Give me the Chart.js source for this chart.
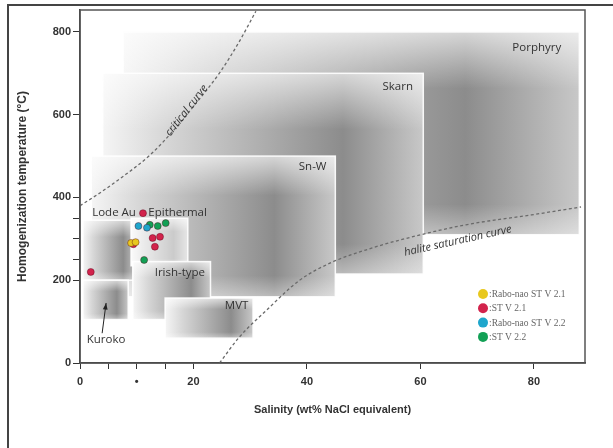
<!DOCTYPE html>
<html>
<head>
<meta charset="utf-8">
<script src="https://cdn.jsdelivr.net/npm/chart.js@4.4.1/dist/chart.umd.min.js"></script>
<style>
  html, body { margin: 0; padding: 0; background: #fff; }
  #wrap { width: 613px; height: 448px; }
</style>
</head>
<body>
<div id="wrap"><canvas id="chart" width="613" height="448"></canvas></div>
<script>
// ---- data ----
const xTicks = [0, 20, 40, 60, 80];
const yTicks = [0, 200, 400, 600, 800];

// ore deposit fields (salinity wt% NaCl eq., temperature °C)
const fieldNames = ["Porphyry", "Skarn", "Sn-W", "Lode Au", "Epithermal", "Irish-type", "Kuroko", "MVT"];
const fieldSalMin = [7.6, 4, 2, 0.5, 9, 9.3, 0.5, 15];
const fieldSalMax = [88, 60.5, 45, 10, 19, 23, 8.5, 30.5];
const fieldTMin = [310, 215, 160, 200, 235, 105, 105, 60];
const fieldTMax = [800, 700, 500, 345, 350, 245, 200, 157];
const fieldLabelSal = [80.5, 56, 41, 6, 17.2, 17.6, 4.6, 27.6];
const fieldLabelT = [761, 667, 474, 362, 362, 217, 56, 138];

// curves
const criticalSal = [0, 3.5, 7, 12.3, 17, 20, 24.7, 28, 31];
const criticalT = [380, 411, 445, 502, 570, 620, 703, 775, 850];
const haliteSal = [24.6, 28.1, 32.9, 38.7, 44.5, 51.5, 56.3, 68, 79.6, 88.3];
const haliteT = [0, 63, 128, 200, 244, 278, 297, 334, 358, 377];

// fluid inclusion samples
const seriesNames = ["Rabo-nao ST V 2.1", "ST V 2.1", "Rabo-nao ST V 2.2", "ST V 2.2"];
const seriesColors = ["#e8c81e", "#d2234c", "#1ea6cc", "#12a055"];
const rn21Sal = [9.0, 9.8];
const rn21T = [290, 292];
const st21Sal = [1.9, 11.1, 12.8, 14.1, 13.2, 9.4];
const st21T = [220, 362, 302, 305, 281, 287];
const rn22Sal = [10.3, 11.8];
const rn22T = [331, 327];
const st22Sal = [12.3, 13.7, 15.1, 11.3];
const st22T = [334, 331, 338, 249];

const toPoints = (xs, ys) => xs.map((x, i) => ({ x: x, y: ys[i] }));

const canvas = document.getElementById("chart");

// gradient shaded field boxes, drawn under the curves and points
const fieldsPlugin = {
  id: "fields",
  beforeDatasetsDraw(chart) {
    const { ctx, chartArea, scales: { x, y } } = chart;
    ctx.save();
    ctx.beginPath();
    ctx.rect(chartArea.left, chartArea.top, chartArea.right - chartArea.left, chartArea.bottom - chartArea.top);
    ctx.clip();
    fieldNames.forEach((name, i) => {
      const x1 = x.getPixelForValue(fieldSalMin[i]);
      const x2 = x.getPixelForValue(fieldSalMax[i]);
      const y1 = y.getPixelForValue(fieldTMax[i]);
      const y2 = y.getPixelForValue(fieldTMin[i]);
      const w = x2 - x1, h = y2 - y1;
      const g = ctx.createLinearGradient(x1, 0, x2, 0);
      g.addColorStop(0, "#f5f5f5");
      g.addColorStop(0.2, "#d6d6d6");
      g.addColorStop(0.75, "#8c8c8c");
      g.addColorStop(1, "#c8c8c8");
      ctx.fillStyle = g;
      ctx.fillRect(x1, y1, w, h);
      const v = ctx.createLinearGradient(0, y1, 0, y2);
      v.addColorStop(0, "rgba(255,255,255,0.65)");
      v.addColorStop(0.28, "rgba(255,255,255,0)");
      v.addColorStop(0.85, "rgba(255,255,255,0)");
      v.addColorStop(1, "rgba(255,255,255,0.4)");
      ctx.fillStyle = v;
      ctx.fillRect(x1, y1, w, h);
      if (name === "Epithermal") {
        ctx.fillStyle = "rgba(255,255,255,0.55)";
        ctx.fillRect(x1, y1, w, h);
      }
      ctx.strokeStyle = "rgba(255,255,255,0.9)";
      ctx.lineWidth = 1.5;
      ctx.strokeRect(x1, y1, w, h);
    });
    ctx.restore();
  },
  afterDatasetsDraw(chart) {
    const { ctx, chartArea, scales: { x, y } } = chart;
    ctx.save();
    // field labels
    ctx.fillStyle = "#333";
    ctx.font = '11.5px "Open Sans"';
    ctx.textAlign = "center";
    ctx.textBaseline = "middle";
    fieldNames.forEach((name, i) => {
      ctx.fillText(name, x.getPixelForValue(fieldLabelSal[i]), y.getPixelForValue(fieldLabelT[i]));
    });
    // arrow to Kuroko field
    const ax1 = x.getPixelForValue(3.9), ay1 = y.getPixelForValue(72);
    const ax2 = x.getPixelForValue(4.6), ay2 = y.getPixelForValue(145);
    ctx.strokeStyle = "#222";
    ctx.lineWidth = 1;
    ctx.beginPath();
    ctx.moveTo(ax1, ay1);
    ctx.lineTo(ax2, ay2);
    ctx.stroke();
    const ang = Math.atan2(ay2 - ay1, ax2 - ax1);
    ctx.fillStyle = "#222";
    ctx.beginPath();
    ctx.moveTo(ax2, ay2);
    ctx.lineTo(ax2 - 7 * Math.cos(ang - 0.35), ay2 - 7 * Math.sin(ang - 0.35));
    ctx.lineTo(ax2 - 7 * Math.cos(ang + 0.35), ay2 - 7 * Math.sin(ang + 0.35));
    ctx.closePath();
    ctx.fill();
    // curve labels
    ctx.font = 'italic 11px "Open Sans"';
    ctx.fillStyle = "#333";
    ctx.save();
    ctx.translate(x.getPixelForValue(18.8), y.getPixelForValue(610));
    ctx.rotate(-52 * Math.PI / 180);
    ctx.fillText("critical curve", 0, 0);
    ctx.restore();
    ctx.save();
    ctx.translate(x.getPixelForValue(66.6), y.getPixelForValue(295));
    ctx.rotate(-12.5 * Math.PI / 180);
    ctx.fillText("halite saturation curve", 0, 0);
    ctx.restore();
    // plot frame
    ctx.strokeStyle = "#555";
    ctx.lineWidth = 1.5;
    ctx.strokeRect(chartArea.left, chartArea.top, chartArea.right - chartArea.left, chartArea.bottom - chartArea.top);
    // legend
    ctx.textAlign = "left";
    ctx.font = '9.5px "Liberation Serif"';
    seriesNames.forEach((name, i) => {
      const cy = 294 + i * 14.3;
      ctx.fillStyle = seriesColors[i];
      ctx.beginPath();
      ctx.arc(483, cy, 5, 0, Math.PI * 2);
      ctx.fill();
      ctx.fillStyle = "#666";
      ctx.fillText(":" + name, 489, cy + 0.5);
    });
    // outer figure frame
    ctx.strokeStyle = "#444";
    ctx.lineWidth = 2;
    ctx.beginPath();
    ctx.moveTo(8, 448);
    ctx.lineTo(8, 5);
    ctx.lineTo(613, 5);
    ctx.stroke();
    ctx.restore();
  }
};

const curveStyle = {
  type: "line",
  showLine: true,
  borderColor: "#6a6a6a",
  borderWidth: 1.3,
  borderDash: [3, 2.5],
  pointRadius: 0,
  cubicInterpolationMode: "monotone",
  fill: false
};

const pointStyle = (i) => ({
  type: "scatter",
  backgroundColor: seriesColors[i],
  borderColor: "rgba(80,0,20,0.5)",
  borderWidth: 0.8,
  pointRadius: 3.5
});

new Chart(canvas.getContext("2d"), {
  data: {
    datasets: [
      { ...curveStyle, label: "critical curve", data: toPoints(criticalSal, criticalT) },
      { ...curveStyle, label: "halite saturation curve", data: toPoints(haliteSal, haliteT) },
      { ...pointStyle(0), label: seriesNames[0], data: toPoints(rn21Sal, rn21T) },
      { ...pointStyle(2), label: seriesNames[2], data: toPoints(rn22Sal, rn22T) },
      { ...pointStyle(3), label: seriesNames[3], data: toPoints(st22Sal, st22T) },
      { ...pointStyle(1), label: seriesNames[1], data: toPoints(st21Sal, st21T) }
    ]
  },
  options: {
    responsive: false,
    animation: false,
    devicePixelRatio: 1,
    layout: { padding: { top: 10, right: 28, left: 0, bottom: 0 } },
    plugins: { legend: { display: false }, tooltip: { enabled: false } },
    scales: {
      x: {
        type: "linear",
        min: 0,
        max: 89,
        afterFit: (scale) => { scale.height = 85; },
        border: { display: true, color: "#333", width: 1.5 },
        grid: {
          drawOnChartArea: false,
          drawTicks: true,
          tickLength: 6,
          tickColor: (c) => (c.tick && (c.tick.value % 20 === 0 || c.tick.value < 20) ? "#333" : "rgba(0,0,0,0)")
        },
        afterBuildTicks: (scale) => {
          const t = [];
          for (let v = 0; v <= 85; v += 5) t.push({ value: v });
          scale.ticks = t;
        },
        ticks: {
          padding: 6,
          maxRotation: 0,
          autoSkip: false,
          color: "#333",
          font: { family: "Liberation Sans", size: 11, weight: "bold" },
          callback: (v) => (xTicks.includes(v) ? String(v) : v === 10 ? "•" : "")
        },
        title: {
          display: true,
          text: "Salinity (wt% NaCl equivalent)",
          color: "#333",
          font: { family: "Liberation Sans", size: 11, weight: "bold" },
          padding: { top: 0, bottom: 31.5 }
        }
      },
      y: {
        type: "linear",
        min: 0,
        max: 853,
        afterFit: (scale) => { scale.width = 80; },
        border: { display: true, color: "#333", width: 1.5 },
        grid: {
          drawOnChartArea: false,
          drawTicks: true,
          tickLength: 7,
          tickColor: (c) => (c.tick && (c.tick.value % 200 === 0 || (c.tick.value > 200 && c.tick.value < 400)) ? "#333" : "rgba(0,0,0,0)")
        },
        afterBuildTicks: (scale) => {
          const t = [];
          for (let v = 0; v <= 800; v += 50) t.push({ value: v });
          scale.ticks = t;
        },
        ticks: {
          padding: 2,
          autoSkip: false,
          color: "#333",
          font: { family: "Liberation Sans", size: 11, weight: "bold" },
          callback: (v) => (yTicks.includes(v) ? String(v) : "")
        },
        title: {
          display: true,
          text: "Homogenization temperature (°C)",
          color: "#333",
          font: { family: "Liberation Sans", size: 12, weight: "bold" },
          padding: { top: 15, bottom: 0 }
        }
      }
    }
  },
  plugins: [fieldsPlugin]
});
</script>
</body>
</html>
